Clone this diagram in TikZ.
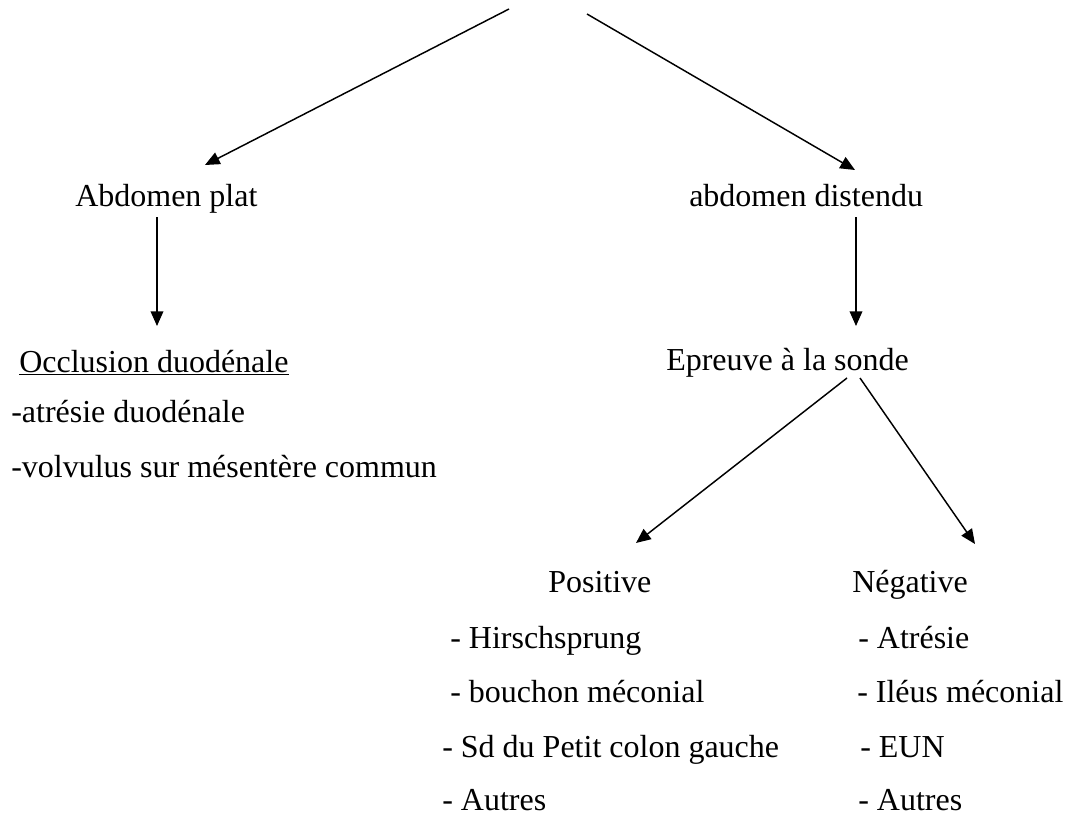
\documentclass[tikz,border=0pt]{standalone}
\usepackage{fontspec}
\setmainfont{Liberation Serif}
\usetikzlibrary{arrows.meta}
\begin{document}
\begin{tikzpicture}[x=0.75pt,y=-0.75pt,
  lbl/.style={anchor=base west,inner sep=0pt,font=\fontsize{24}{29}\selectfont},
  arr/.style={-{Triangle[length=11pt,width=9.5pt]},line width=1.1pt}]
\useasboundingbox (0,0) rectangle (1068,821);
% texts
\node[lbl] (plat) at (75,206) {Abdomen plat};
\node[lbl] (dist) at (689,206) {abdomen distendu};
\node[lbl] (occl) at (19,372) {\underline{Occlusion duodénale}};
\node[lbl] (atr) at (11,422) {-atrésie duodénale};
\node[lbl] (volv) at (11,477) {-volvulus sur mésentère commun};
\node[lbl] (epr) at (666,370) {Epreuve à la sonde};
\node[lbl] (pos) at (548,592) {Positive};
\node[lbl] (p1) at (450,648) {- Hirschsprung};
\node[lbl] (p2) at (450,702) {- bouchon méconial};
\node[lbl] (p3) at (442,757) {- Sd du Petit colon gauche};
\node[lbl] (p4) at (442,810) {- Autres};
\node[lbl] (neg) at (852,592) {Négative};
\node[lbl] (n1) at (858,648) {- Atrésie};
\node[lbl] (n2) at (857,702) {- Iléus méconial};
\node[lbl] (n3) at (860,757) {- EUN};
\node[lbl] (n4) at (858,810) {- Autres};
% connector ends
\coordinate (topL) at (509,9);
\coordinate (topR) at (587,14);
\coordinate (platTip) at (205,165);
\coordinate (distTip) at (855,170);
\coordinate (platOut) at (157,217);
\coordinate (occlTip) at (157,326);
\coordinate (distOut) at (856,217);
\coordinate (eprTip) at (856,326);
\coordinate (eprOutL) at (847,378);
\coordinate (eprOutR) at (860,378);
\coordinate (posTip) at (636,543);
\coordinate (negTip) at (975,544);
% connectors
\draw[arr] (topL) -- (platTip);
\draw[arr] (topR) -- (distTip);
\draw[arr] (platOut) -- (occlTip);
\draw[arr] (distOut) -- (eprTip);
\draw[arr] (eprOutL) -- (posTip);
\draw[arr] (eprOutR) -- (negTip);
\end{tikzpicture}
\end{document}
